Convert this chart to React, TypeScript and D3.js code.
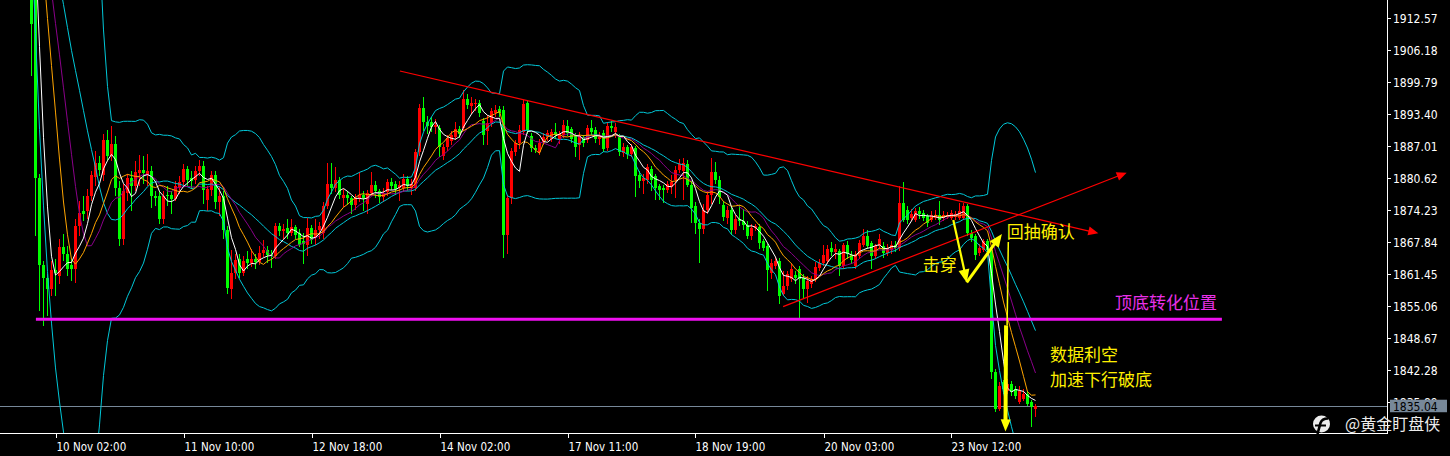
// XAUUSD H1 — candles with MA(5/10/14) + Bollinger(20,2) and hand-drawn annotations
import React, { useEffect, useRef } from "react";
import * as d3 from "d3";

// bars before the visible window (above the top edge, needed for indicator warm-up)
const priorBars: number[][] = [
  [1951.2, 1953.0, 1949.5, 1952.0], [1952.0, 1954.1, 1950.8, 1953.3], [1953.3, 1955.0, 1951.9, 1952.4],
  [1952.4, 1953.8, 1950.2, 1951.1], [1951.1, 1952.6, 1949.0, 1950.3], [1950.3, 1952.9, 1949.7, 1952.2],
  [1952.2, 1954.4, 1951.3, 1953.8], [1953.8, 1955.2, 1952.5, 1954.0], [1954.0, 1956.1, 1953.1, 1955.3],
  [1955.3, 1957.0, 1954.2, 1954.8], [1954.8, 1955.9, 1952.6, 1953.2], [1953.2, 1954.5, 1951.0, 1951.7],
  [1951.7, 1953.0, 1950.3, 1952.6], [1952.6, 1955.4, 1952.0, 1954.9], [1954.9, 1958.7, 1954.1, 1957.6],
  [1957.6, 1959.9, 1955.8, 1956.4], [1956.4, 1958.2, 1953.7, 1954.5], [1954.5, 1965.3, 1953.9, 1960.8],
  [1960.8, 1962.4, 1948.0, 1951.2], [1951.2, 1953.0, 1924.5, 1928.0],
];

// visible bars, [open, high, low, close]
const bars: number[][] = [
  [1928.0, 1930.0, 1901.0, 1911.5], [1917.0, 1918.5, 1869.0, 1880.6], [1880.6, 1881.5, 1854.0, 1863.2],
  [1863.2, 1864.0, 1851.0, 1860.7], [1860.7, 1861.5, 1853.0, 1858.4], [1858.4, 1864.0, 1857.0, 1862.2],
  [1862.2, 1864.5, 1857.0, 1861.7], [1861.0, 1868.5, 1859.5, 1866.8], [1866.8, 1869.5, 1864.0, 1865.4],
  [1865.4, 1867.0, 1861.0, 1862.5], [1863.2, 1864.5, 1860.0, 1862.5], [1862.5, 1872.5, 1859.7, 1871.0],
  [1871.0, 1876.0, 1869.0, 1873.7], [1874.0, 1877.0, 1872.0, 1873.5], [1874.0, 1878.5, 1872.5, 1877.0],
  [1877.0, 1882.0, 1876.0, 1881.3], [1880.8, 1886.0, 1879.0, 1883.6], [1883.6, 1885.0, 1881.0, 1882.3],
  [1881.3, 1889.5, 1880.0, 1888.3], [1888.3, 1890.3, 1884.0, 1885.1], [1885.1, 1891.0, 1884.0, 1887.5],
  [1887.5, 1889.0, 1877.0, 1878.6], [1878.6, 1880.0, 1867.0, 1868.5], [1868.5, 1879.5, 1867.3, 1878.0],
  [1877.6, 1881.5, 1876.0, 1880.6], [1880.6, 1882.0, 1874.0, 1879.0], [1879.0, 1884.0, 1878.0, 1881.8],
  [1881.6, 1885.3, 1879.0, 1882.3], [1882.3, 1885.0, 1879.5, 1881.6], [1881.3, 1885.5, 1879.0, 1882.0],
  [1882.0, 1883.0, 1874.7, 1877.0], [1877.0, 1878.0, 1875.0, 1876.7], [1877.0, 1878.0, 1871.5, 1872.5],
  [1872.5, 1878.0, 1871.5, 1877.0], [1877.2, 1879.0, 1875.0, 1877.0], [1877.2, 1878.0, 1873.5, 1876.5],
  [1876.5, 1880.0, 1876.0, 1879.0], [1878.6, 1881.0, 1877.5, 1879.8], [1879.8, 1883.5, 1879.0, 1882.5],
  [1882.5, 1883.0, 1879.0, 1880.3], [1880.6, 1882.0, 1878.5, 1880.0], [1880.3, 1883.0, 1879.5, 1882.0],
  [1882.0, 1884.3, 1881.0, 1883.1], [1883.1, 1884.0, 1875.5, 1878.3], [1876.3, 1879.0, 1874.0, 1878.4],
  [1878.3, 1882.0, 1877.0, 1881.3], [1881.3, 1882.0, 1874.5, 1875.9], [1875.9, 1879.0, 1873.0, 1877.0],
  [1877.0, 1878.0, 1868.5, 1870.3], [1870.3, 1871.0, 1857.5, 1858.7], [1858.4, 1866.3, 1856.4, 1861.7],
  [1861.7, 1865.5, 1860.5, 1864.2], [1864.4, 1865.5, 1860.7, 1861.7], [1861.7, 1865.0, 1861.0, 1864.0],
  [1864.4, 1866.0, 1862.5, 1863.6], [1863.6, 1866.5, 1862.8, 1864.4], [1864.4, 1865.5, 1862.5, 1863.8],
  [1863.8, 1867.0, 1863.2, 1865.6], [1865.6, 1868.3, 1864.8, 1866.2], [1866.2, 1867.0, 1863.6, 1865.3],
  [1865.3, 1866.3, 1862.7, 1865.0], [1865.0, 1871.7, 1864.5, 1871.0], [1871.0, 1871.7, 1869.0, 1870.1],
  [1870.1, 1871.5, 1868.5, 1870.5], [1870.6, 1872.4, 1868.5, 1869.7], [1869.7, 1872.4, 1869.0, 1870.8],
  [1870.8, 1871.3, 1868.5, 1869.3], [1869.7, 1870.5, 1866.8, 1867.3], [1868.0, 1869.7, 1863.4, 1867.5],
  [1867.3, 1872.6, 1865.0, 1870.7], [1870.7, 1871.3, 1867.5, 1868.3], [1868.6, 1872.4, 1867.3, 1870.2],
  [1870.2, 1871.8, 1868.5, 1871.0], [1869.7, 1875.8, 1868.5, 1875.0], [1875.0, 1883.6, 1874.5, 1879.5],
  [1879.5, 1883.6, 1877.5, 1878.6], [1878.6, 1882.8, 1877.8, 1880.3], [1880.3, 1880.8, 1876.5, 1877.2],
  [1876.6, 1878.5, 1874.8, 1877.2], [1877.2, 1878.0, 1875.3, 1876.6], [1876.6, 1877.0, 1873.5, 1875.3],
  [1875.3, 1877.5, 1874.3, 1876.6], [1876.6, 1881.9, 1875.8, 1877.2], [1877.2, 1878.0, 1874.0, 1876.6],
  [1875.5, 1878.3, 1873.5, 1877.6], [1877.6, 1881.9, 1877.0, 1879.3], [1879.3, 1880.0, 1876.6, 1878.0],
  [1878.0, 1878.5, 1875.6, 1876.8], [1876.8, 1878.6, 1875.8, 1877.6], [1877.8, 1880.5, 1877.0, 1879.8],
  [1879.8, 1880.6, 1878.3, 1879.0], [1879.5, 1880.0, 1877.2, 1878.4], [1878.6, 1880.0, 1876.0, 1879.2],
  [1878.6, 1881.5, 1877.8, 1880.4], [1880.4, 1881.0, 1878.0, 1879.0], [1878.6, 1880.4, 1877.3, 1879.5],
  [1878.6, 1886.5, 1878.0, 1885.9], [1885.9, 1895.5, 1885.0, 1894.6], [1894.6, 1896.9, 1890.0, 1891.9],
  [1891.9, 1893.0, 1889.5, 1891.0], [1891.9, 1892.9, 1889.8, 1890.9], [1890.9, 1892.5, 1889.5, 1891.3],
  [1890.6, 1891.3, 1884.9, 1886.9], [1885.0, 1887.5, 1884.3, 1886.8], [1886.8, 1889.3, 1886.0, 1888.6],
  [1888.0, 1890.0, 1887.3, 1889.3], [1888.8, 1891.9, 1888.2, 1890.4], [1890.5, 1891.0, 1888.7, 1889.5],
  [1890.6, 1898.2, 1890.0, 1896.4], [1896.4, 1897.5, 1894.5, 1895.2], [1895.1, 1896.8, 1893.5, 1895.7],
  [1895.4, 1896.5, 1894.0, 1895.7], [1895.7, 1896.2, 1892.8, 1893.6], [1892.1, 1892.6, 1887.3, 1889.3],
  [1890.1, 1893.2, 1887.3, 1891.6], [1891.6, 1894.6, 1890.9, 1894.1], [1893.6, 1895.2, 1892.8, 1894.2],
  [1894.4, 1895.0, 1892.9, 1893.7], [1894.2, 1895.0, 1864.7, 1869.3], [1869.3, 1877.3, 1865.4, 1876.6],
  [1876.6, 1886.6, 1875.5, 1886.1], [1885.9, 1888.2, 1885.0, 1887.6], [1887.6, 1891.3, 1886.5, 1890.3],
  [1889.9, 1896.2, 1889.2, 1895.4], [1895.6, 1896.0, 1889.5, 1890.3], [1889.1, 1889.6, 1885.8, 1886.6],
  [1886.6, 1887.2, 1885.6, 1886.3], [1885.9, 1888.4, 1885.3, 1887.6], [1887.9, 1889.6, 1887.3, 1888.9],
  [1888.9, 1890.2, 1888.0, 1889.6], [1888.4, 1890.5, 1887.8, 1889.9], [1889.9, 1891.6, 1888.4, 1889.3],
  [1888.3, 1890.0, 1887.5, 1889.4], [1889.3, 1892.2, 1888.7, 1891.3], [1891.1, 1892.2, 1889.0, 1889.7],
  [1890.4, 1890.9, 1887.6, 1888.4], [1889.1, 1889.6, 1884.9, 1886.8], [1887.3, 1889.8, 1884.3, 1889.1],
  [1888.8, 1889.3, 1886.8, 1887.6], [1888.3, 1891.3, 1887.7, 1890.6], [1890.6, 1892.2, 1889.3, 1889.9],
  [1890.3, 1890.8, 1887.6, 1888.4], [1888.4, 1889.8, 1887.3, 1888.9], [1889.6, 1890.2, 1885.8, 1886.4],
  [1886.6, 1891.9, 1886.0, 1891.1], [1891.1, 1892.0, 1889.8, 1890.6], [1889.9, 1891.6, 1888.6, 1890.8],
  [1888.9, 1889.5, 1885.0, 1885.9], [1885.6, 1887.6, 1884.8, 1886.8], [1886.8, 1887.2, 1884.5, 1885.5],
  [1885.5, 1887.5, 1884.8, 1886.8], [1886.6, 1887.0, 1876.8, 1881.0], [1881.3, 1882.0, 1878.6, 1880.0],
  [1880.0, 1881.5, 1877.5, 1880.6], [1880.3, 1883.5, 1879.5, 1882.9], [1882.4, 1883.0, 1878.0, 1880.3],
  [1881.0, 1881.5, 1876.3, 1878.6], [1879.0, 1879.5, 1876.3, 1878.3], [1878.6, 1879.3, 1875.6, 1878.3],
  [1878.2, 1880.0, 1877.6, 1879.5], [1878.8, 1881.2, 1877.5, 1879.8], [1880.3, 1883.0, 1876.6, 1882.3],
  [1882.2, 1884.5, 1881.6, 1883.5], [1882.0, 1884.6, 1876.3, 1883.6], [1883.5, 1884.3, 1878.8, 1879.3],
  [1879.3, 1880.0, 1871.7, 1874.6], [1875.0, 1875.8, 1869.5, 1871.7], [1871.7, 1872.5, 1863.7, 1870.5],
  [1870.5, 1875.5, 1869.5, 1874.3], [1874.3, 1878.0, 1873.5, 1877.3], [1877.3, 1884.6, 1875.5, 1881.8],
  [1881.8, 1883.8, 1879.4, 1880.2], [1880.2, 1881.0, 1875.5, 1876.8], [1875.3, 1876.0, 1872.0, 1872.9],
  [1872.7, 1875.0, 1871.5, 1874.3], [1874.3, 1875.0, 1869.3, 1870.2], [1870.2, 1873.3, 1869.5, 1872.5],
  [1872.5, 1875.3, 1871.0, 1872.0], [1872.0, 1874.5, 1870.3, 1871.3], [1871.3, 1872.0, 1868.5, 1869.0],
  [1869.0, 1871.5, 1868.3, 1870.7], [1870.7, 1871.5, 1870.0, 1871.0], [1870.9, 1871.5, 1866.5, 1867.7],
  [1868.0, 1868.5, 1866.0, 1866.7], [1867.0, 1867.5, 1858.0, 1862.2], [1861.7, 1864.5, 1860.5, 1863.7],
  [1863.0, 1864.8, 1862.5, 1864.0], [1864.0, 1864.6, 1855.5, 1857.0], [1857.5, 1862.0, 1857.0, 1859.0],
  [1859.0, 1862.0, 1858.3, 1861.4], [1860.4, 1863.6, 1859.8, 1862.5], [1861.3, 1862.0, 1859.5, 1860.7],
  [1862.5, 1863.0, 1852.7, 1860.4], [1860.7, 1861.5, 1856.5, 1858.4], [1858.4, 1861.0, 1855.6, 1860.0],
  [1859.4, 1861.0, 1858.6, 1860.4], [1860.4, 1863.8, 1859.8, 1862.8], [1862.7, 1864.5, 1862.0, 1863.7],
  [1863.7, 1867.3, 1863.0, 1865.3], [1864.0, 1867.3, 1863.5, 1866.5], [1866.7, 1867.8, 1865.0, 1865.8],
  [1865.8, 1867.5, 1864.5, 1866.5], [1866.0, 1866.5, 1861.0, 1863.0], [1863.0, 1867.7, 1862.4, 1867.3],
  [1867.3, 1868.0, 1864.5, 1865.5], [1865.2, 1866.0, 1863.5, 1864.2], [1863.0, 1866.0, 1862.5, 1865.2],
  [1865.0, 1868.3, 1864.5, 1867.7], [1867.3, 1870.5, 1866.8, 1869.0], [1869.0, 1870.3, 1866.5, 1867.0],
  [1867.7, 1868.0, 1862.4, 1865.0], [1865.0, 1867.5, 1864.4, 1867.0], [1867.0, 1869.5, 1866.5, 1868.5],
  [1867.0, 1867.8, 1864.6, 1865.6], [1865.6, 1867.5, 1865.0, 1866.5], [1866.3, 1868.0, 1865.5, 1867.3],
  [1867.3, 1868.0, 1865.8, 1866.7], [1866.7, 1879.0, 1866.0, 1875.6], [1875.6, 1879.8, 1871.8, 1872.3],
  [1874.3, 1875.0, 1871.5, 1872.3], [1872.7, 1874.5, 1872.0, 1873.5], [1872.3, 1874.6, 1871.8, 1874.0],
  [1874.0, 1874.8, 1872.5, 1873.5], [1873.7, 1874.3, 1872.0, 1872.7], [1873.0, 1873.5, 1870.8, 1871.7],
  [1872.3, 1874.0, 1871.8, 1873.3], [1872.7, 1874.2, 1872.2, 1873.3], [1873.3, 1876.0, 1871.3, 1872.3],
  [1872.7, 1874.0, 1872.0, 1873.3], [1872.9, 1873.8, 1872.4, 1873.3], [1872.7, 1874.3, 1872.2, 1873.7],
  [1872.9, 1874.0, 1872.3, 1873.5], [1872.7, 1875.6, 1872.2, 1874.0], [1872.7, 1875.6, 1872.2, 1875.0],
  [1875.0, 1875.5, 1869.0, 1869.7], [1869.7, 1870.3, 1867.8, 1868.7], [1869.0, 1869.5, 1864.3, 1865.3],
  [1865.7, 1867.5, 1865.0, 1866.7], [1866.3, 1868.5, 1865.8, 1868.0], [1868.0, 1868.5, 1865.5, 1866.3],
  [1866.3, 1866.8, 1840.5, 1841.8], [1841.8, 1842.5, 1833.8, 1834.5], [1834.5, 1839.8, 1834.0, 1839.1],
  [1839.8, 1840.3, 1837.5, 1838.5], [1838.1, 1840.5, 1837.5, 1839.5], [1839.5, 1840.0, 1837.0, 1837.8],
  [1838.5, 1839.0, 1836.5, 1837.1], [1835.8, 1839.0, 1835.5, 1838.1], [1836.5, 1838.5, 1836.0, 1837.5],
  [1837.5, 1838.0, 1835.0, 1835.5], [1835.8, 1836.3, 1830.8, 1834.8], [1834.5, 1835.5, 1832.8, 1835.04],
];

const priceTicks = ["1912.57", "1906.18", "1899.79", "1893.40", "1887.01", "1880.62", "1874.23",
  "1867.84", "1861.45", "1855.06", "1848.67", "1842.28", "1835.89"];
const timeTickBars = [6, 38, 70, 102, 134, 166, 198, 230];
const timeTickLabels = ["10 Nov 02:00", "11 Nov 10:00", "12 Nov 18:00", "14 Nov 02:00",
  "17 Nov 11:00", "18 Nov 19:00", "20 Nov 03:00", "23 Nov 12:00"];
const lastPrice = 1835.04;

// moving averages: period / colour
const maPeriods = [14, 10, 5];
const maColors = ["#8b008b", "#ffa500", "#ffffff"];

// hand-drawn objects, in [bar, price]
const downTrend = [[92.1, 1902.04], [266.7, 1869.61]];
const upTrend = [[187.9, 1854.94], [273.8, 1881.71]];
const levelPrice = 1852.44;
const levelSpan = [1.1, 297.6];
const breakArrow = [[230.45, 1872.26], [233.8, 1859.77], [242.6, 1869.47]];
const dropArrow = [[244.2, 1867.87], [243.9, 1851.2], [243.5, 1830.0]];
const noteTexts = ["击穿", "回抽确认", "顶底转化位置", "数据利空", "加速下行破底"];
const noteBars = [222.8, 243.8, 270.9, 254.6, 254.6];
const notePrices = [1863.17, 1869.76, 1855.68, 1845.28, 1840.28];
const noteColors = ["#fff000", "#fff000", "#e830e8", "#fff000", "#fff000"];

const W = 1450, H = 456;
const plotRight = 1387, plotBottom = 433;
const axisFont = "'DejaVu Sans Condensed', 'DejaVu Sans', sans-serif";
const cjkFont = "'Noto Sans CJK SC', sans-serif";

const App: React.FC = () => {
  const svgRef = useRef<SVGSVGElement>(null);

  useEffect(() => {
    if (!svgRef.current) return;
    const root = d3.select(svgRef.current);
    root.selectAll("*").remove();
    root.attr("width", W).attr("height", H);

    const x = d3.scaleLinear().domain([0, bars.length - 1]).range([31.5, 31.5 + 4 * (bars.length - 1)]);
    const y = d3.scaleLinear().domain([1842.28, 1912.57]).range([370, 18.3]);

    root.append("rect").attr("width", W).attr("height", H).attr("fill", "#000");

    root.append("clipPath").attr("id", "plot")
      .append("rect").attr("x", 0).attr("y", 0).attr("width", plotRight).attr("height", plotBottom);

    const plot = root.append("g").attr("clip-path", "url(#plot)");

    // current price line
    plot.append("line")
      .attr("x1", 0).attr("x2", plotRight)
      .attr("y1", Math.round(y(lastPrice)) + 0.5).attr("y2", Math.round(y(lastPrice)) + 0.5)
      .attr("stroke", "#778899");

    // candles
    const all = [...priorBars, ...bars].map((d, k) => ({ i: k - priorBars.length, o: d[0], h: d[1], l: d[2], c: d[3] }));
    const cg = plot.append("g").attr("shape-rendering", "crispEdges");
    const candle = cg.selectAll("g").data(all).join("g")
      .attr("stroke", d => d.c >= d.o ? "#ff0000" : "#00ff00")
      .attr("fill", d => d.c >= d.o ? "#ff0000" : "#00ff00");
    candle.append("line")
      .attr("x1", d => x(d.i)).attr("x2", d => x(d.i))
      .attr("y1", d => y(d.h)).attr("y2", d => y(d.l));
    candle.append("rect")
      .attr("stroke", "none")
      .attr("x", d => x(d.i) - 1.5).attr("width", 3)
      .attr("y", d => y(Math.max(d.o, d.c)))
      .attr("height", d => Math.max(1, Math.abs(y(d.o) - y(d.c))));

    // indicators
    const closes = all.map(d => d.c);
    const windowOf = (k: number, n: number) => closes.slice(k - n + 1, k + 1);
    const sma = (n: number) => all.map((d, k) => k < n - 1 ? null : { i: d.i, v: d3.mean(windowOf(k, n))! });
    const line = d3.line<{ i: number; v: number } | null>()
      .defined(d => d !== null)
      .x(d => x(d!.i)).y(d => y(d!.v));

    const mid = sma(20);
    const sd = all.map((_, k) => {
      if (k < 19) return 0;
      const w = windowOf(k, 20);
      const m = d3.mean(w)!;
      return Math.sqrt(d3.mean(w, v => (v - m) ** 2)!);
    });
    const upper = mid.map((d, k) => d && { i: d.i, v: d.v + 2 * sd[k] });
    const lower = mid.map((d, k) => d && { i: d.i, v: d.v - 2 * sd[k] });

    [upper, mid, lower].forEach(s => plot.append("path").attr("d", line(s)!)
      .attr("fill", "none").attr("stroke", "#00c8d8").attr("stroke-width", 1));
    maPeriods.forEach((n, j) => plot.append("path").attr("d", line(sma(n))!)
      .attr("fill", "none").attr("stroke", maColors[j]).attr("stroke-width", 1));

    // arrowhead helper
    const head = (x1: number, y1: number, x2: number, y2: number, len: number, half: number, color: string) => {
      const a = Math.atan2(y2 - y1, x2 - x1);
      const bx = x2 - len * Math.cos(a), by = y2 - len * Math.sin(a);
      const px = -Math.sin(a) * half, py = Math.cos(a) * half;
      plot.append("polygon")
        .attr("points", `${x2},${y2} ${bx + px},${by + py} ${bx - px},${by - py}`)
        .attr("fill", color);
    };

    // red trend lines
    [downTrend, upTrend].forEach(t => {
      const [x1, y1, x2, y2] = [x(t[0][0]), y(t[0][1]), x(t[1][0]), y(t[1][1])];
      plot.append("line").attr("x1", x1).attr("y1", y1).attr("x2", x2 - 6).attr("y2", y2 - (y2 - y1) * 6 / (x2 - x1))
        .attr("stroke", "#ff0000").attr("stroke-width", 1.2);
      head(x1, y1, x2, y2, 10, 4.5, "#ff0000");
    });

    // support/resistance level
    plot.append("line")
      .attr("x1", x(levelSpan[0])).attr("x2", x(levelSpan[1]))
      .attr("y1", y(levelPrice)).attr("y2", y(levelPrice))
      .attr("stroke", "#f010f0").attr("stroke-width", 3);

    // yellow V arrow (break + pullback)
    const bp = breakArrow.map(p => [x(p[0]), y(p[1])]);
    plot.append("line").attr("x1", bp[0][0]).attr("y1", bp[0][1]).attr("x2", bp[1][0] - 1.5).attr("y2", bp[1][1] - 8)
      .attr("stroke", "#ffff00").attr("stroke-width", 2.2);
    head(bp[0][0], bp[0][1], bp[1][0], bp[1][1], 13, 5.5, "#ffff00");
    plot.append("line").attr("x1", bp[1][0]).attr("y1", bp[1][1]).attr("x2", bp[2][0] - 6).attr("y2", bp[2][1] + 8)
      .attr("stroke", "#ffff00").attr("stroke-width", 3);
    head(bp[1][0], bp[1][1], bp[2][0], bp[2][1], 13, 5.5, "#ffff00");

    // yellow drop arrow
    const dp = dropArrow.map(p => [x(p[0]), y(p[1])]);
    plot.append("line").attr("x1", dp[0][0]).attr("y1", dp[0][1]).attr("x2", dp[1][0]).attr("y2", dp[1][1])
      .attr("stroke", "#ffff00").attr("stroke-width", 1.5);
    plot.append("line").attr("x1", dp[1][0] - 1).attr("y1", dp[1][1]).attr("x2", dp[2][0]).attr("y2", dp[2][1] - 10)
      .attr("stroke", "#ffff00").attr("stroke-width", 4);
    head(dp[1][0], dp[1][1], dp[2][0], dp[2][1], 12, 5, "#ffff00");

    // notes
    plot.selectAll("text.note").data(noteTexts).join("text")
      .attr("class", "note")
      .attr("x", (_, j) => x(noteBars[j])).attr("y", (_, j) => y(notePrices[j]))
      .attr("dy", "0.35em")
      .attr("fill", (_, j) => noteColors[j])
      .attr("font-family", cjkFont).attr("font-size", 17)
      .text(d => d);

    // axes
    const ax = root.append("g").attr("shape-rendering", "crispEdges");
    ax.append("line").attr("x1", plotRight + 0.5).attr("x2", plotRight + 0.5).attr("y1", 0).attr("y2", plotBottom + 1)
      .attr("stroke", "#fff");
    ax.append("line").attr("x1", 0).attr("x2", plotRight + 1).attr("y1", plotBottom + 0.5).attr("y2", plotBottom + 0.5)
      .attr("stroke", "#fff");

    priceTicks.forEach(t => {
      const ty = Math.round(y(+t)) + 0.5;
      ax.append("line").attr("x1", plotRight).attr("x2", plotRight + 4).attr("y1", ty).attr("y2", ty).attr("stroke", "#fff");
      root.append("text").attr("x", plotRight + 6).attr("y", ty).attr("dy", "0.36em")
        .attr("fill", "#fff").attr("font-family", axisFont).attr("font-stretch", "condensed")
        .attr("font-size", 12).text(t);
    });

    timeTickBars.forEach((b, j) => {
      const tx = Math.round(x(b)) + 0.5;
      ax.append("line").attr("x1", tx).attr("x2", tx).attr("y1", plotBottom).attr("y2", plotBottom + 5).attr("stroke", "#fff");
      root.append("text").attr("x", tx).attr("y", 450.5)
        .attr("fill", "#fff").attr("font-family", axisFont).attr("font-stretch", "condensed")
        .attr("font-size", 11.5).text(timeTickLabels[j]);
    });

    // last price box
    const ly = y(lastPrice);
    root.append("rect").attr("x", plotRight + 3).attr("y", ly - 6.5).attr("width", 57).attr("height", 12.5)
      .attr("fill", "#778899");
    root.append("text").attr("x", plotRight + 6).attr("y", ly).attr("dy", "0.36em")
      .attr("fill", "#000").attr("font-family", axisFont).attr("font-stretch", "condensed")
      .attr("font-size", 12).text(lastPrice.toFixed(2));

    // watermark
    const wm = root.append("g");
    wm.append("circle").attr("cx", 1321.5).attr("cy", 424).attr("r", 8.5).attr("fill", "#ececec");
    wm.append("path").attr("d", "M1317.5,434 L1320.5,423 Q1322,418.5 1328,418.5")
      .attr("fill", "none").attr("stroke", "#000").attr("stroke-width", 2.6);
    wm.append("path").attr("d", "M1315,425.5 L1326,425.5").attr("stroke", "#000").attr("stroke-width", 2);
    wm.append("text").attr("x", 1345).attr("y", 430)
      .attr("fill", "#ececec").attr("font-family", cjkFont).attr("font-size", 16)
      .text("@黄金盯盘侠");
  }, []);

  return (
    <div style={{ position: "absolute", left: 0, top: 0, width: W, height: H, background: "#000" }}>
      <svg ref={svgRef} style={{ display: "block" }} />
    </div>
  );
};

export default App;
